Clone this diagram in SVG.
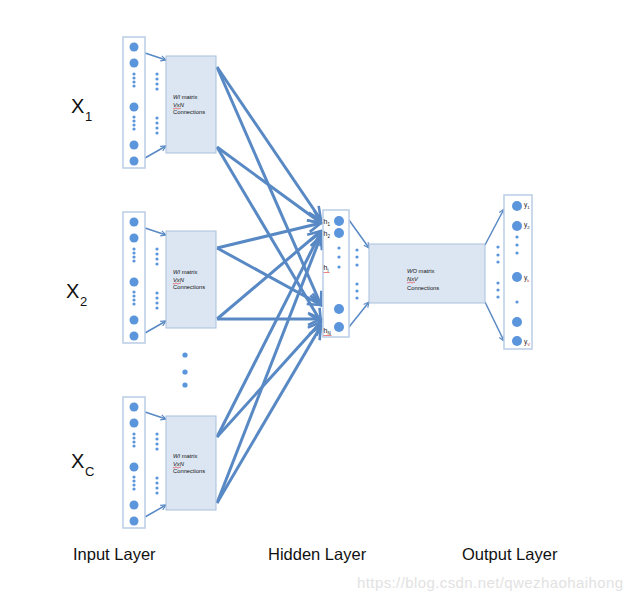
<svg xmlns="http://www.w3.org/2000/svg" width="633" height="601" viewBox="0 0 633 601">
<defs>
<marker id="big" viewBox="0 0 16 16" refX="14" refY="8" markerWidth="16" markerHeight="16" markerUnits="userSpaceOnUse" orient="auto">
<path d="M1,2 L14,8 L1,14" fill="none" stroke="#5889c4" stroke-width="2.6" stroke-linejoin="miter"/>
</marker>
<marker id="small" viewBox="0 0 8 8" refX="7" refY="4" markerWidth="7" markerHeight="7" markerUnits="userSpaceOnUse" orient="auto">
<path d="M1,1 L7,4 L1,7" fill="none" stroke="#5889c4" stroke-width="1.3"/>
</marker>
</defs>
<style>
.col{fill:#ffffff;stroke:#b9cde6;stroke-width:1.5}
.mat{fill:#dce6f2;stroke:#aac0dd;stroke-width:1}
.n{fill:#5b95dc}
.d{fill:#5b95dc}
.big{stroke:#5889c4;stroke-width:3;fill:none;marker-end:url(#big)}
.sm{stroke:#5889c4;stroke-width:1.5;fill:none;marker-end:url(#small)}
.t{font-family:"Liberation Sans",Arial,sans-serif;font-size:5.8px;fill:#111}
.lbl{font-family:"Liberation Sans",Arial,sans-serif;fill:#111}
.sq{stroke:#e03030;stroke-width:0.6;fill:none}
.wm{font-family:"Liberation Sans",Arial,sans-serif;font-size:15px;fill:#e2e2e2}
</style>
<rect width="633" height="601" fill="#ffffff"/>

<g id="connectors">
<line class="sm" x1="145" y1="53" x2="166" y2="60"/>
<line class="sm" x1="145" y1="158" x2="166" y2="146"/>
<line class="sm" x1="145" y1="228" x2="166" y2="235"/>
<line class="sm" x1="145" y1="333" x2="166" y2="321"/>
<line class="sm" x1="145" y1="412" x2="166" y2="419"/>
<line class="sm" x1="145" y1="517" x2="166" y2="505"/>
<line class="big" x1="217" y1="67" x2="321" y2="220"/>
<line class="big" x1="217" y1="67" x2="321" y2="305"/>
<line class="big" x1="217" y1="147" x2="321" y2="223"/>
<line class="big" x1="217" y1="147" x2="321" y2="322"/>
<line class="big" x1="217" y1="248" x2="321" y2="223"/>
<line class="big" x1="217" y1="248" x2="321" y2="305"/>
<line class="big" x1="217" y1="319" x2="321" y2="319"/>
<line class="big" x1="217" y1="319" x2="321" y2="231"/>
<line class="big" x1="217" y1="437" x2="321" y2="232"/>
<line class="big" x1="217" y1="437" x2="321" y2="322"/>
<line class="big" x1="217" y1="503" x2="321" y2="236"/>
<line class="big" x1="217" y1="503" x2="321" y2="326"/>
<line class="sm" x1="349" y1="220" x2="369" y2="248"/>
<line class="sm" x1="349" y1="327" x2="369" y2="302"/>
<line class="sm" x1="485" y1="245" x2="504" y2="209"/>
<line class="sm" x1="485" y1="302" x2="504" y2="341"/>
</g>

<g id="x1">
<rect class="col" x="123" y="37" width="22" height="131"/>
<circle class="n" cx="134" cy="47" r="4.5"/><circle class="n" cx="134" cy="63" r="4.5"/><circle class="n" cx="134" cy="107" r="4.5"/><circle class="n" cx="134" cy="145" r="4.5"/><circle class="n" cx="134" cy="161" r="4.5"/>
<circle class="d" cx="134" cy="74" r="1.6"/><circle class="d" cx="134" cy="78" r="1.6"/><circle class="d" cx="134" cy="82" r="1.6"/><circle class="d" cx="134" cy="86" r="1.6"/>
<circle class="d" cx="134" cy="117" r="1.6"/><circle class="d" cx="134" cy="121" r="1.6"/><circle class="d" cx="134" cy="125" r="1.6"/><circle class="d" cx="134" cy="129" r="1.6"/>
<circle class="d" cx="157" cy="74" r="1.6"/><circle class="d" cx="157" cy="79" r="1.6"/><circle class="d" cx="157" cy="84" r="1.6"/><circle class="d" cx="157" cy="89" r="1.6"/>
<circle class="d" cx="157" cy="118" r="1.6"/><circle class="d" cx="157" cy="123" r="1.6"/><circle class="d" cx="157" cy="128" r="1.6"/><circle class="d" cx="157" cy="133" r="1.6"/>
<text class="lbl" x="71" y="113" font-size="20">X</text><text class="lbl" x="85" y="121" font-size="13">1</text>
</g>
<g id="wi1">
<rect class="mat" x="166" y="56" width="50" height="97"/>
<text class="t" x="173" y="99"><tspan font-style="italic">WI</tspan> matrix</text>
<text class="t" x="173" y="107" font-style="italic">VxN</text><path class="sq" d="M173,108.5 q1,1 2,0 t2,0 t2,0 t2,0"/>
<text class="t" x="173" y="114">Connections</text>
</g>

<g id="x2">
<rect class="col" x="123" y="212" width="22" height="131"/>
<circle class="n" cx="134" cy="222" r="4.5"/><circle class="n" cx="134" cy="238" r="4.5"/><circle class="n" cx="134" cy="282" r="4.5"/><circle class="n" cx="134" cy="320" r="4.5"/><circle class="n" cx="134" cy="336" r="4.5"/>
<circle class="d" cx="134" cy="249" r="1.6"/><circle class="d" cx="134" cy="253" r="1.6"/><circle class="d" cx="134" cy="257" r="1.6"/><circle class="d" cx="134" cy="261" r="1.6"/>
<circle class="d" cx="134" cy="292" r="1.6"/><circle class="d" cx="134" cy="296" r="1.6"/><circle class="d" cx="134" cy="300" r="1.6"/><circle class="d" cx="134" cy="304" r="1.6"/>
<circle class="d" cx="157" cy="249" r="1.6"/><circle class="d" cx="157" cy="254" r="1.6"/><circle class="d" cx="157" cy="259" r="1.6"/><circle class="d" cx="157" cy="264" r="1.6"/>
<circle class="d" cx="157" cy="293" r="1.6"/><circle class="d" cx="157" cy="298" r="1.6"/><circle class="d" cx="157" cy="303" r="1.6"/><circle class="d" cx="157" cy="308" r="1.6"/>
<text class="lbl" x="66" y="298" font-size="20">X</text><text class="lbl" x="80" y="306" font-size="13">2</text>
</g>
<g id="wi2">
<rect class="mat" x="166" y="231" width="50" height="97"/>
<text class="t" x="173" y="274"><tspan font-style="italic">WI</tspan> matrix</text>
<text class="t" x="173" y="282" font-style="italic">VxN</text><path class="sq" d="M173,283.5 q1,1 2,0 t2,0 t2,0 t2,0"/>
<text class="t" x="173" y="289">Connections</text>
</g>

<g id="more">
<circle class="d" cx="185" cy="355" r="2.6"/><circle class="d" cx="185" cy="372" r="2.6"/><circle class="d" cx="185" cy="385" r="2.6"/>
</g>

<g id="xc">
<rect class="col" x="123" y="397" width="22" height="131"/>
<circle class="n" cx="134" cy="407" r="4.5"/><circle class="n" cx="134" cy="423" r="4.5"/><circle class="n" cx="134" cy="467" r="4.5"/><circle class="n" cx="134" cy="505" r="4.5"/><circle class="n" cx="134" cy="521" r="4.5"/>
<circle class="d" cx="134" cy="434" r="1.6"/><circle class="d" cx="134" cy="438" r="1.6"/><circle class="d" cx="134" cy="442" r="1.6"/><circle class="d" cx="134" cy="446" r="1.6"/>
<circle class="d" cx="134" cy="477" r="1.6"/><circle class="d" cx="134" cy="481" r="1.6"/><circle class="d" cx="134" cy="485" r="1.6"/><circle class="d" cx="134" cy="489" r="1.6"/>
<circle class="d" cx="157" cy="434" r="1.6"/><circle class="d" cx="157" cy="439" r="1.6"/><circle class="d" cx="157" cy="444" r="1.6"/><circle class="d" cx="157" cy="449" r="1.6"/>
<circle class="d" cx="157" cy="478" r="1.6"/><circle class="d" cx="157" cy="483" r="1.6"/><circle class="d" cx="157" cy="488" r="1.6"/><circle class="d" cx="157" cy="493" r="1.6"/>
<text class="lbl" x="71" y="468" font-size="20">X</text><text class="lbl" x="85" y="476" font-size="13">C</text>
</g>
<g id="wi3">
<rect class="mat" x="166" y="416" width="50" height="94"/>
<text class="t" x="173" y="458"><tspan font-style="italic">WI</tspan> matrix</text>
<text class="t" x="173" y="466" font-style="italic">VxN</text><path class="sq" d="M173,467.5 q1,1 2,0 t2,0 t2,0 t2,0"/>
<text class="t" x="173" y="473">Connections</text>
</g>

<g id="hidden">
<rect class="col" x="323" y="210" width="26" height="127"/>
<circle class="n" cx="339" cy="221" r="5"/><circle class="n" cx="339" cy="233" r="5"/><circle class="n" cx="339" cy="309" r="5"/><circle class="n" cx="339" cy="327" r="5"/>
<circle class="d" cx="339" cy="248" r="1.6"/><circle class="d" cx="339" cy="257" r="1.6"/><circle class="d" cx="339" cy="267" r="1.6"/>
<circle class="d" cx="357" cy="250" r="1.6"/><circle class="d" cx="357" cy="257" r="1.6"/><circle class="d" cx="357" cy="265" r="1.6"/>
<circle class="d" cx="357" cy="284" r="1.6"/><circle class="d" cx="357" cy="291" r="1.6"/><circle class="d" cx="357" cy="298" r="1.6"/>
<text class="lbl" x="323.5" y="224" font-size="7">h<tspan font-size="4.5" dy="1.5">1</tspan></text>
<text class="lbl" x="323.5" y="236" font-size="7">h<tspan font-size="4.5" dy="1.5">2</tspan></text>
<text class="lbl" x="323.5" y="270" font-size="7">h<tspan font-size="4.5" dy="1.5">i</tspan></text><path class="sq" d="M323.5,272.5 h6"/>
<text class="lbl" x="323.5" y="333" font-size="7">h<tspan font-size="4.5" dy="1.5">N</tspan></text><path class="sq" d="M323.5,335.5 h8"/>
</g>

<g id="wo">
<rect class="mat" x="369" y="244" width="116" height="59"/>
<text class="t" x="407" y="273"><tspan font-style="italic">WO</tspan> matrix</text>
<text class="t" x="407" y="281" font-style="italic">NxV</text><path class="sq" d="M407,282.5 q1,1 2,0 t2,0 t2,0 t2,0"/>
<text class="t" x="407" y="290">Connections</text>
</g>

<g id="output">
<rect class="col" x="504" y="195" width="28" height="154"/>
<circle class="n" cx="517" cy="206" r="5"/><circle class="n" cx="517" cy="226" r="5"/><circle class="n" cx="517" cy="277" r="5"/><circle class="n" cx="517" cy="322" r="5"/><circle class="n" cx="517" cy="341" r="5"/>
<circle class="d" cx="517" cy="237" r="1.6"/><circle class="d" cx="517" cy="245" r="1.6"/><circle class="d" cx="517" cy="253" r="1.6"/><circle class="d" cx="517" cy="302" r="1.6"/>
<circle class="d" cx="498" cy="247" r="1.6"/><circle class="d" cx="498" cy="255" r="1.6"/><circle class="d" cx="498" cy="262" r="1.6"/>
<circle class="d" cx="498" cy="283" r="1.6"/><circle class="d" cx="498" cy="290" r="1.6"/><circle class="d" cx="498" cy="297" r="1.6"/>
<text class="lbl" x="524" y="207" font-size="6.5">y<tspan font-size="4.2" dy="1.5">1</tspan></text>
<text class="lbl" x="524" y="227" font-size="6.5">y<tspan font-size="4.2" dy="1.5">2</tspan></text>
<text class="lbl" x="524" y="280" font-size="6.5">y<tspan font-size="4.2" dy="1.5" fill="#c03030">k</tspan></text>
<text class="lbl" x="524" y="344" font-size="6.5">y<tspan font-size="4.2" dy="1.5" fill="#c03030">V</tspan></text>
</g>

<g id="labels">
<text class="lbl" x="73" y="560" font-size="16.5">Input Layer</text>
<text class="lbl" x="268" y="560" font-size="16.5">Hidden Layer</text>
<text class="lbl" x="462" y="560" font-size="16.5">Output Layer</text>
<text class="wm" x="357" y="588" textLength="266">https://blog.csdn.net/qwezhaohaihong</text>
</g>
</svg>
